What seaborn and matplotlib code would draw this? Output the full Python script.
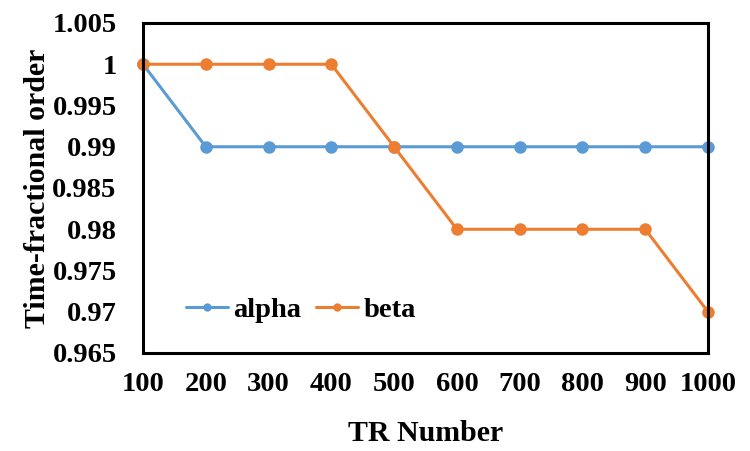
import matplotlib
matplotlib.use("Agg")
import matplotlib.pyplot as plt
import seaborn as sns
import pandas as pd
from matplotlib.ticker import FixedLocator, FuncFormatter

tr_numbers = [100, 200, 300, 400, 500, 600, 700, 800, 900, 1000]
alpha_vals = [1.0, 0.99, 0.99, 0.99, 0.99, 0.99, 0.99, 0.99, 0.99, 0.99]
beta_vals = [1.0, 1.0, 1.0, 1.0, 0.99, 0.98, 0.98, 0.98, 0.98, 0.97]
y_ticks = [0.965, 0.97, 0.975, 0.98, 0.985, 0.99, 0.995, 1.0, 1.005]

df = pd.DataFrame({
    "TR": tr_numbers * 2,
    "value": alpha_vals + beta_vals,
    "series": ["alpha"] * len(tr_numbers) + ["beta"] * len(tr_numbers),
})

sns.set_style("white")
plt.rcParams["font.family"] = ["Liberation Serif", "DejaVu Serif"]
plt.rcParams["font.weight"] = "bold"
plt.rcParams["text.color"] = "black"
plt.rcParams["xtick.color"] = "black"
plt.rcParams["ytick.color"] = "black"
plt.rcParams["axes.labelcolor"] = "black"

fig = plt.figure(figsize=(7.5, 4.51), dpi=100)
ax = fig.add_axes([143 / 750, 1 - 353 / 451, (708 - 143) / 750, (353 - 23) / 451])

palette = {"alpha": "#5B9BD5", "beta": "#ED7D31"}
sns.lineplot(data=df, x="TR", y="value", hue="series", palette=palette,
             marker="o", markersize=9, markeredgewidth=0, linewidth=2.2,
             ax=ax, legend=True, clip_on=False)

ax.set_xlim(100, 1000)
ax.set_ylim(0.965, 1.005)
ax.xaxis.set_major_locator(FixedLocator(tr_numbers))
ax.yaxis.set_major_locator(FixedLocator(y_ticks))
ax.yaxis.set_major_formatter(FuncFormatter(lambda v, p: ("%.3f" % v).rstrip("0").rstrip(".")))
ax.tick_params(axis="both", length=0, labelsize=20.5, colors="black")
ax.tick_params(axis="x", pad=14)
ax.tick_params(axis="y", pad=19)
for lbl in ax.get_xticklabels() + ax.get_yticklabels():
    lbl.set_fontweight("bold")

for s in ax.spines.values():
    s.set_visible(True)
    s.set_color("black")
    s.set_linewidth(2.2)

ax.set_xlabel("TR Number", fontsize=21.5, fontweight="bold", labelpad=16, color="black")
ax.set_ylabel("Time-fractional order", fontsize=21.5, fontweight="bold", labelpad=1, color="black")

handles, labels = ax.get_legend_handles_labels()
for h in handles:
    h.set_markersize(6)
leg = ax.legend(handles, labels, loc="center left", bbox_to_anchor=(0.03, 0.13),
                ncol=2, frameon=False, handlelength=1.5,
                columnspacing=0.5, handletextpad=0.18,
                prop={"weight": "bold", "size": 20.5})
for t in leg.get_texts():
    t.set_color("black")

fig.savefig("out.png", dpi=100)
